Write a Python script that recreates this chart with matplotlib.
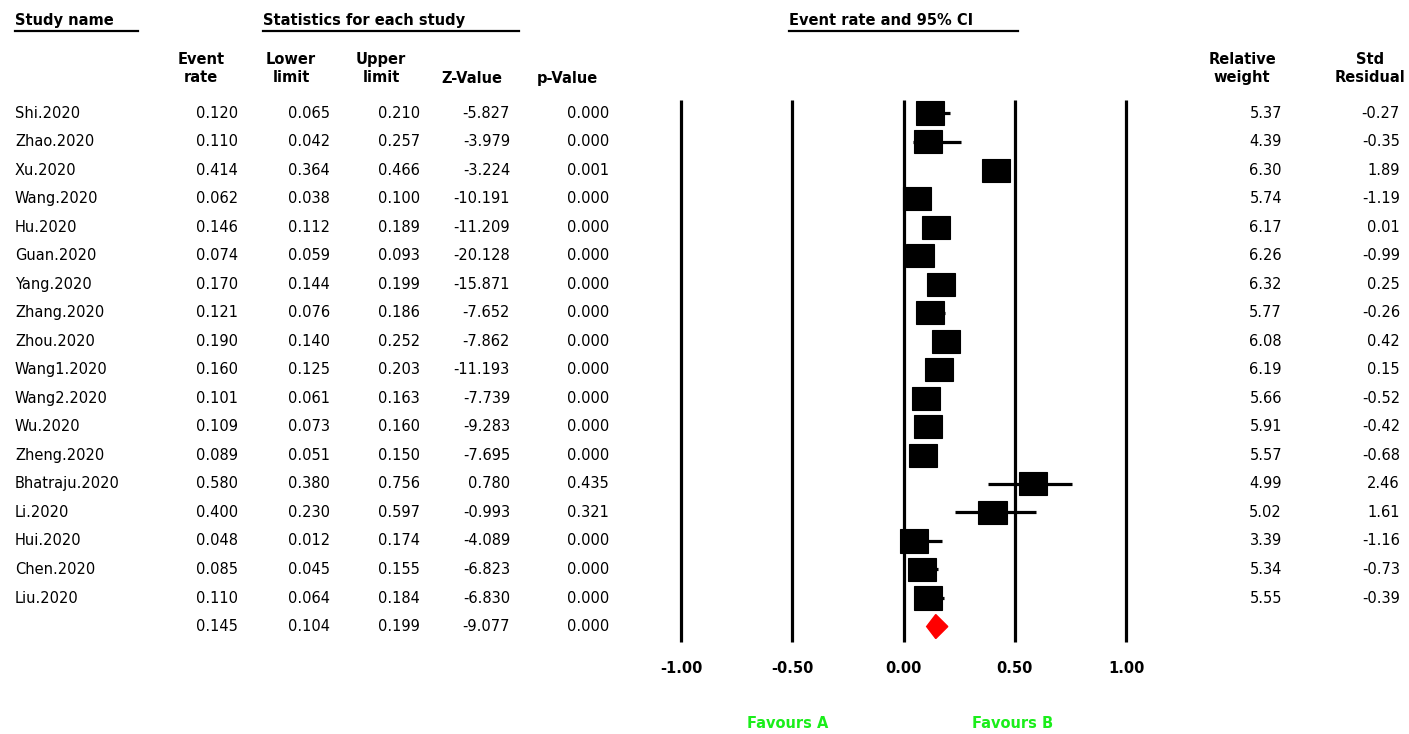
import numpy as np
import matplotlib.pyplot as plt
from matplotlib.patches import Rectangle, Polygon

studies = ["Shi.2020", "Zhao.2020", "Xu.2020", "Wang.2020", "Hu.2020", "Guan.2020",
           "Yang.2020", "Zhang.2020", "Zhou.2020", "Wang1.2020", "Wang2.2020", "Wu.2020",
           "Zheng.2020", "Bhatraju.2020", "Li.2020", "Hui.2020", "Chen.2020", "Liu.2020"]
event = [0.120, 0.110, 0.414, 0.062, 0.146, 0.074, 0.170, 0.121, 0.190,
         0.160, 0.101, 0.109, 0.089, 0.580, 0.400, 0.048, 0.085, 0.110]
lower = [0.065, 0.042, 0.364, 0.038, 0.112, 0.059, 0.144, 0.076, 0.140,
         0.125, 0.061, 0.073, 0.051, 0.380, 0.230, 0.012, 0.045, 0.064]
upper = [0.210, 0.257, 0.466, 0.100, 0.189, 0.093, 0.199, 0.186, 0.252,
         0.203, 0.163, 0.160, 0.150, 0.756, 0.597, 0.174, 0.155, 0.184]
zval = [-5.827, -3.979, -3.224, -10.191, -11.209, -20.128, -15.871, -7.652, -7.862,
        -11.193, -7.739, -9.283, -7.695, 0.780, -0.993, -4.089, -6.823, -6.830]
pval = [0.000, 0.000, 0.001, 0.000, 0.000, 0.000, 0.000, 0.000, 0.000,
        0.000, 0.000, 0.000, 0.000, 0.435, 0.321, 0.000, 0.000, 0.000]
weight = [5.37, 4.39, 6.30, 5.74, 6.17, 6.26, 6.32, 5.77, 6.08,
          6.19, 5.66, 5.91, 5.57, 4.99, 5.02, 3.39, 5.34, 5.55]
resid = [-0.27, -0.35, 1.89, -1.19, 0.01, -0.99, 0.25, -0.26, 0.42,
         0.15, -0.52, -0.42, -0.68, 2.46, 1.61, -1.16, -0.73, -0.39]
# summary: event rate, lower, upper, z, p
summary = [0.145, 0.104, 0.199, -9.077, 0.000]
xticks = [-1.0, -0.5, 0.0, 0.5, 1.0]

W, H = 1409, 734
row0, rowh = 113, 28.53          # pixel y of first row, row pitch


def row(py):
    # pixel y -> row units
    return (py - row0) / rowh


fig = plt.figure(figsize=(W / 100, H / 100), dpi=100)
fig.patch.set_facecolor('white')
ylim = (row(H), row(0))

# text / table layer, x in pixels, y in rows
tax = fig.add_axes([0, 0, 1, 1])
tax.set_xlim(0, W)
tax.set_ylim(*ylim)
tax.axis('off')

# forest layer, x = event rate
fax = fig.add_axes([681 / W, 0, 445 / W, 1])
fax.set_xlim(-1, 1)
fax.set_ylim(*ylim)
fax.axis('off')
fax.patch.set_alpha(0)

fam = 'DejaVu Sans'
fs = 10.5
hk = dict(family=fam, fontsize=fs, fontweight='bold', color='black')
dk = dict(family=fam, fontsize=fs, color='black', va='center')

# top headers with underline
for label, x0, x1 in [("Study name", 15, 138),
                      ("Statistics for each study", 263, 519),
                      ("Event rate and 95% CI", 789, 1018)]:
    tax.text(x0, row(20), label, ha='left', va='center', **hk)
    tax.plot([x0, x1], [row(31), row(31)], color='black', lw=1.6)

# column headers
for label, xc in [("Event\nrate", 201), ("Lower\nlimit", 291), ("Upper\nlimit", 381),
                  ("Relative\nweight", 1242), ("Std\nResidual", 1370)]:
    tax.text(xc, row(68), label, ha='center', va='center', linespacing=1.25, **hk)
tax.text(472, row(78), "Z-Value", ha='center', va='center', **hk)
tax.text(567, row(78), "p-Value", ha='center', va='center', **hk)

# table body
cols = [238, 330, 420, 510, 609]
for i, name in enumerate(studies):
    tax.text(15, i, name, ha='left', **dk)
    vals = [event[i], lower[i], upper[i], zval[i], pval[i]]
    for x, v in zip(cols, vals):
        tax.text(x, i, f"{v:.3f}", ha='right', **dk)
    tax.text(1282, i, f"{weight[i]:.2f}", ha='right', **dk)
    tax.text(1400, i, f"{resid[i]:.2f}", ha='right', **dk)

ns = len(studies)
for x, v in zip(cols, summary):
    tax.text(x, ns, f"{v:.3f}", ha='right', **dk)

# grid lines of the forest plot
fax.vlines(xticks, row(100), row(642), color='black', lw=2.3, clip_on=False)
for t in xticks:
    fax.text(t, row(668), f"{t:.2f}", ha='center', va='center', clip_on=False, **hk)

# CI lines and boxes
bw, bh = 0.126, 0.81
for i in range(ns):
    fax.plot([lower[i], upper[i]], [i, i], color='black', lw=2.3, solid_capstyle='butt')
    fax.add_patch(Rectangle((event[i] - bw / 2, i - bh / 2), bw, bh,
                            facecolor='black', edgecolor='black', lw=0.8))

# summary diamond
m, lo, hi = summary[0], summary[1], summary[2]
fax.add_patch(Polygon([[lo, ns], [m, ns - 0.42], [hi, ns], [m, ns + 0.42]],
                      closed=True, facecolor='#ff0000', edgecolor='#ff0000'))

gk = dict(family=fam, fontsize=fs, fontweight='bold', color='#1aee1a')
fax.text(-0.52, row(724), "Favours A", ha='center', va='center', clip_on=False, **gk)
fax.text(0.49, row(724), "Favours B", ha='center', va='center', clip_on=False, **gk)

fig.savefig('out.png', dpi=100, facecolor='white')
